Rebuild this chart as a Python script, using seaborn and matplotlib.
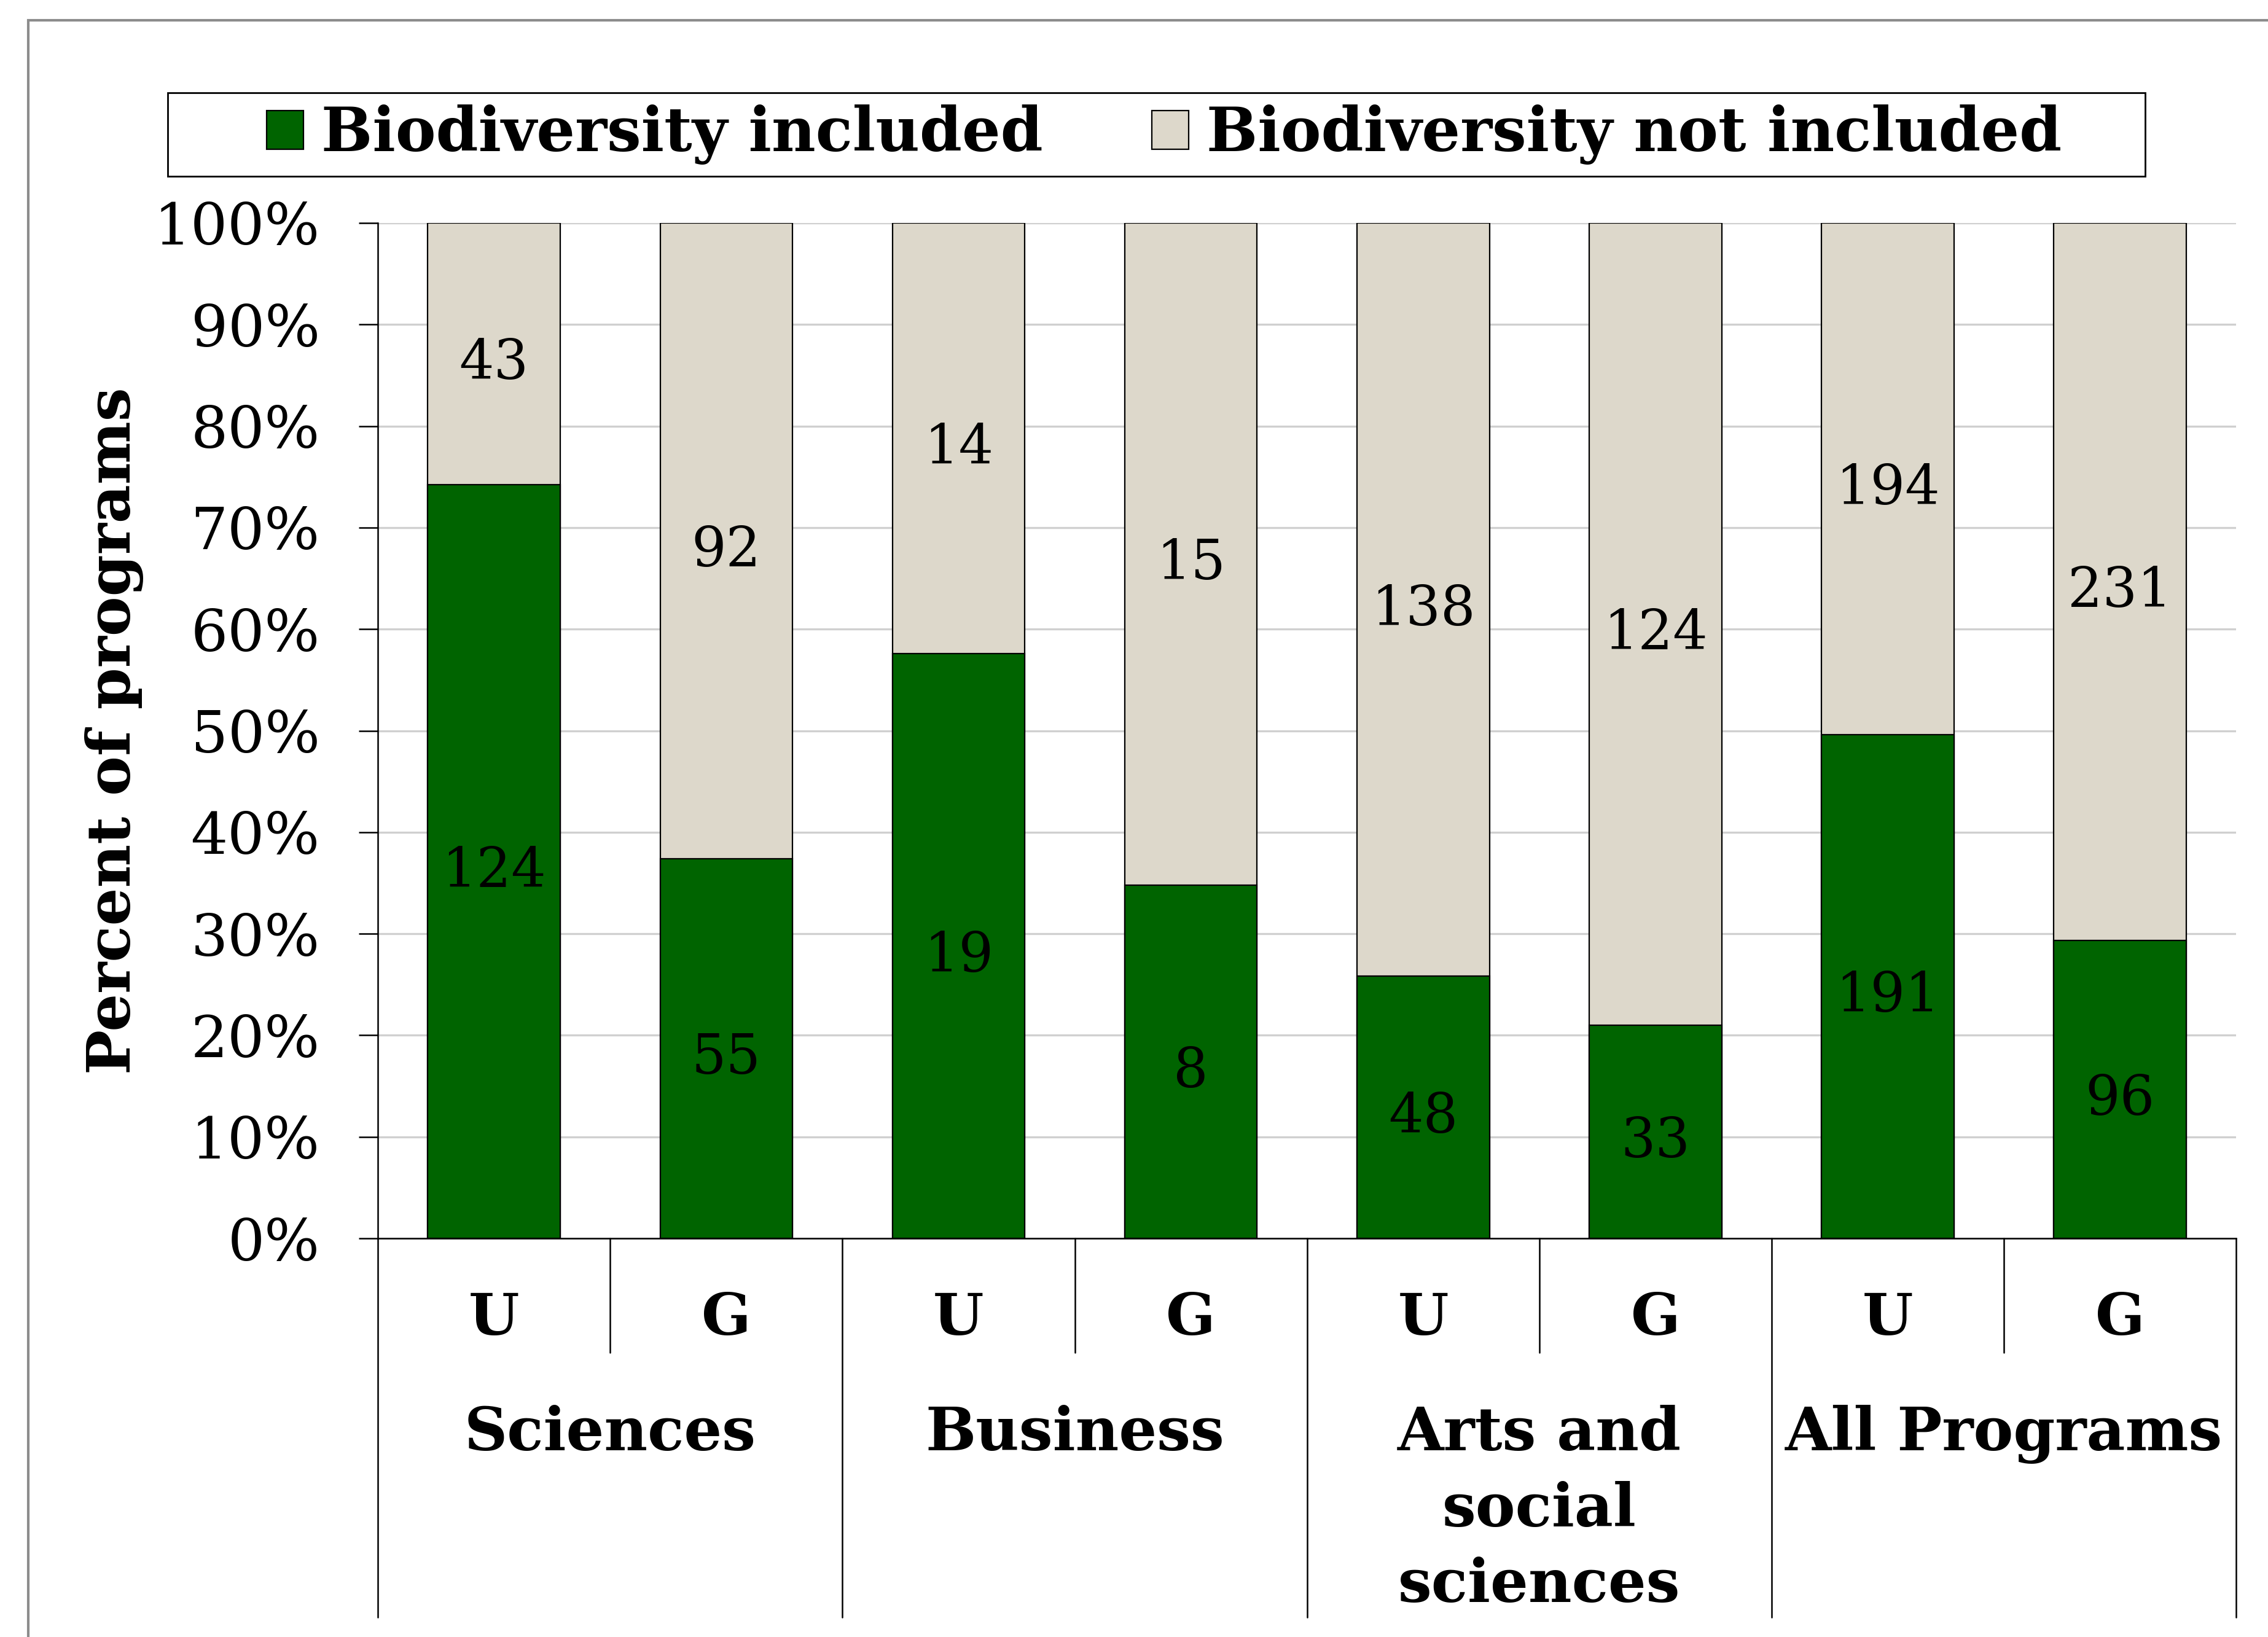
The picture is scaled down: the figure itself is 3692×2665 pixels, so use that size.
import pandas as pd
import seaborn as sns
import matplotlib.pyplot as plt
from matplotlib.patches import Rectangle, Patch

groups = ["Sciences", "Business", "Arts and\nsocial\nsciences", "All Programs"]
levels = ["U", "G"]
included = [124, 55, 19, 8, 48, 33, 191, 96]
not_included = [43, 92, 14, 15, 138, 124, 194, 231]

green = "#006400"
beige = "#DDD8CB"

slots = [g.replace("\n", " ") + " " + l for g in groups for l in levels]
df = pd.DataFrame({"slot": slots, "included": included, "not_included": not_included})
df["pct"] = df["included"] / (df["included"] + df["not_included"]) * 100
df["total"] = 100.0

sns.set_theme(style="white")
plt.rcParams["font.family"] = ["DejaVu Serif"]
plt.rcParams.update({"text.color": "black", "axes.labelcolor": "black",
                     "xtick.color": "black", "ytick.color": "black"})

fig = plt.figure(figsize=(18.46, 13.325), dpi=200)
ax = fig.add_axes([0.1666, 0.2435, 0.8194, 0.6203])

sns.barplot(data=df, x="slot", y="total", color=beige, saturation=1, width=0.57,
            edgecolor="black", linewidth=0.8, ax=ax)
sns.barplot(data=df, x="slot", y="pct", color=green, saturation=1, width=0.57,
            edgecolor="black", linewidth=0.8, ax=ax)

# counts inside each segment
for i, row in df.iterrows():
    ax.annotate(str(row["included"]), (i, row["pct"] / 2), xytext=(0, -6),
                textcoords="offset points", ha="center", va="center", fontsize=32)
    ax.annotate(str(row["not_included"]), (i, (row["pct"] + 100) / 2), xytext=(0, -6),
                textcoords="offset points", ha="center", va="center", fontsize=32)

ax.set_xlim(-0.5, len(slots) - 0.5)
ax.set_ylim(0, 100)
ax.set_yticks(range(0, 101, 10))
ax.set_yticklabels([f"{v}%" for v in range(0, 101, 10)], fontsize=34)
ax.tick_params(axis="y", direction="out", length=11, width=0.9, color="black", pad=23, left=True)
ax.set_xticks([])
ax.set_xlabel("")
ax.yaxis.grid(True, color="#d0d0d0", linewidth=1.2)
ax.set_axisbelow(True)
for s in ["top", "right"]:
    ax.spines[s].set_visible(False)
for s in ["left", "bottom"]:
    ax.spines[s].set_color("black")
    ax.spines[s].set_linewidth(0.9)

ax.set_ylabel("Percent of programs", fontsize=35, fontweight="bold")
ax.yaxis.set_label_coords(-0.126, 0.5)

# multi-level category axis
xt = ax.get_xaxis_transform()
for i, lab in enumerate(levels * len(groups)):
    ax.text(i, -0.079, lab, transform=xt, ha="center", va="center",
            fontsize=34, fontweight="bold")
for j, g in enumerate(groups):
    ax.text(2 * j + 0.5, -0.164, g, transform=xt, ha="center", va="top",
            fontsize=35, fontweight="bold", linespacing=1.4)
for j in range(len(groups)):
    ax.plot([2 * j + 0.5] * 2, [0, -0.1125], transform=xt, clip_on=False, color="black", lw=0.9)
for j in range(len(groups) + 1):
    ax.plot([2 * j - 0.5] * 2, [0, -0.373], transform=xt, clip_on=False, color="black", lw=0.9)

# legend
handles = [Patch(facecolor=green, edgecolor="black", linewidth=0.8, label="Biodiversity included"),
           Patch(facecolor=beige, edgecolor="black", linewidth=0.8, label="Biodiversity not included")]
leg = fig.legend(handles=handles, loc="center", bbox_to_anchor=(0.5134, 0.9178), ncol=2,
                 frameon=False, handlelength=0.6, handleheight=0.6, handletextpad=0.3,
                 columnspacing=1.8, prop={"size": 35.5, "weight": "bold"})
fig.patches.append(Rectangle((273 / 3692, 1 - 287 / 2665), (3492 - 273) / 3692, 136 / 2665,
                             transform=fig.transFigure, fill=False, edgecolor="black", lw=1.0))
fig.patches.append(Rectangle((46 / 3692, -0.05), 1.1, 1.05 - 33 / 2665,
                             transform=fig.transFigure, fill=False, edgecolor="#8c8c8c", lw=1.5))

fig.savefig("out.png", dpi=200)
